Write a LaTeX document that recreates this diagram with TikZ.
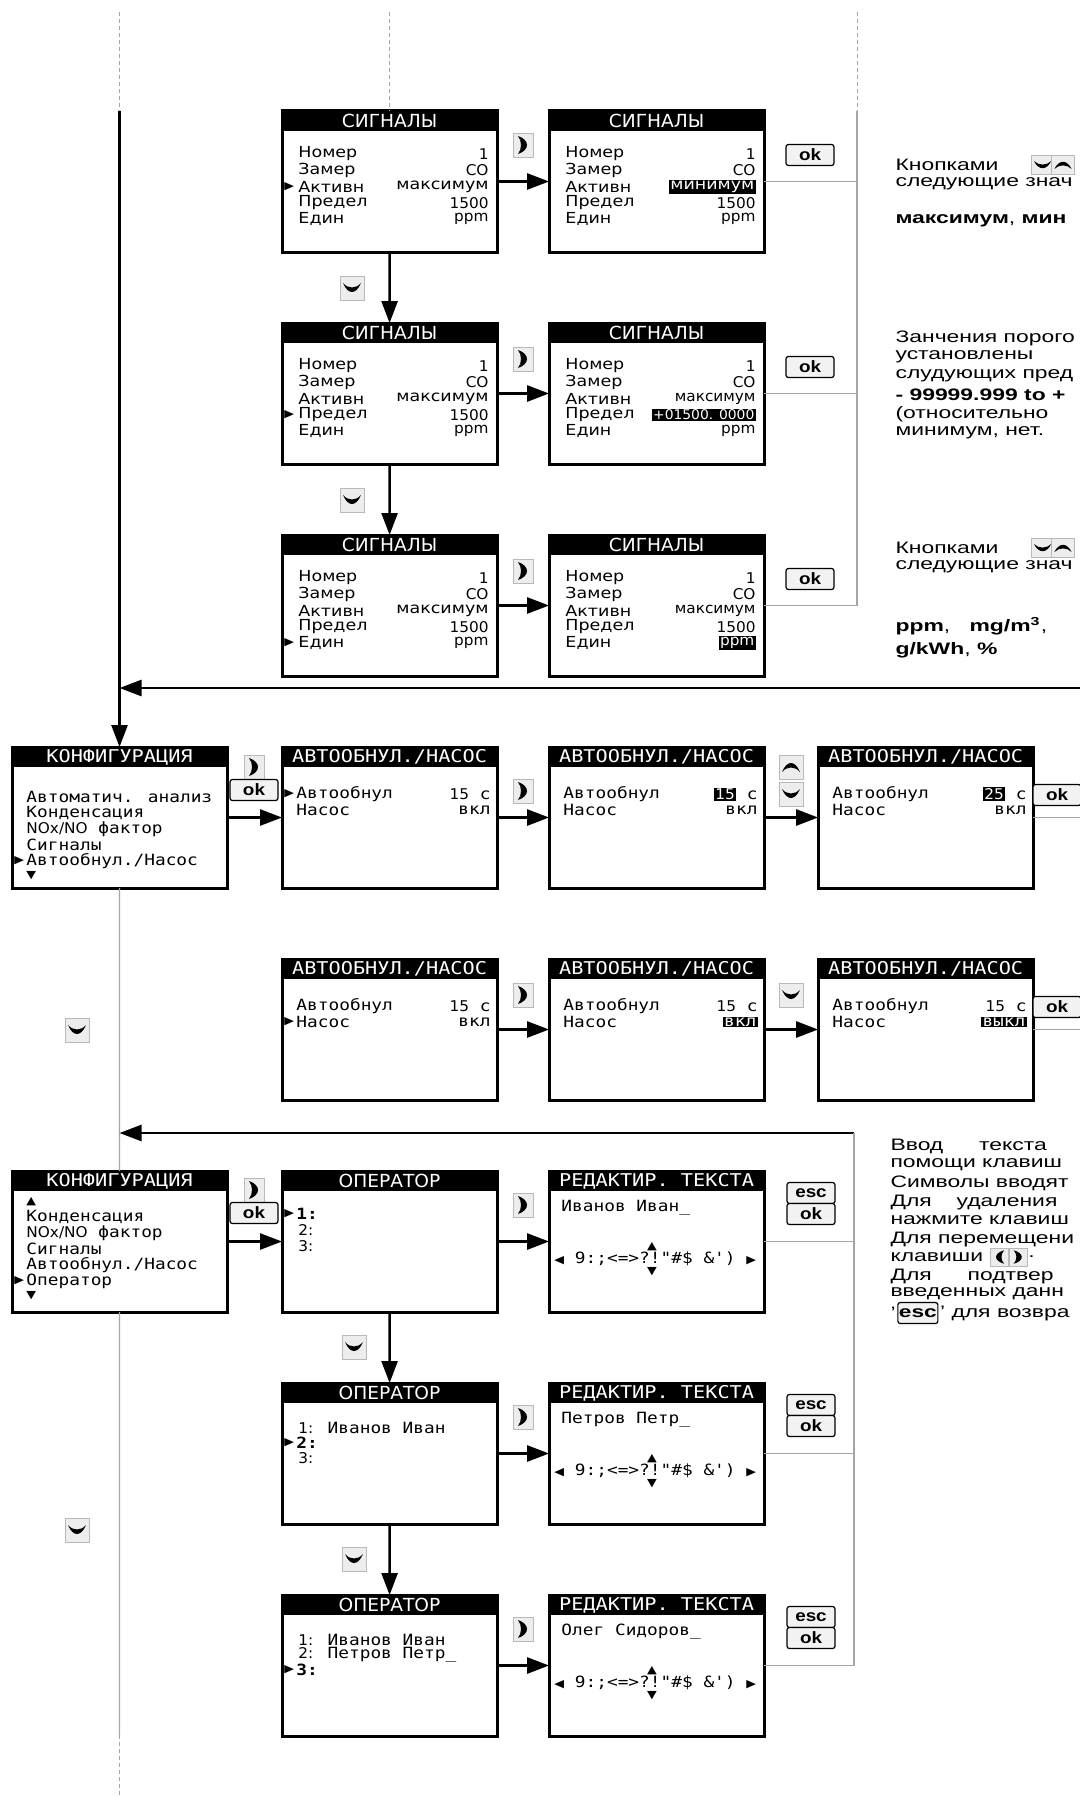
\documentclass[tikz,border=0pt]{standalone}
\usepackage{fontspec}
\setmainfont{Liberation Sans}
\newfontfamily\lcdfont{DejaVu Sans Mono}
\newfontfamily\sigfont{DejaVu Sans}
\newfontfamily\condfont{DejaVu Sans Condensed}
\newfontfamily\symfont{DejaVu Sans}
\usetikzlibrary{arrows.meta,positioning,calc}
\newcommand{\sigf}{\sigfont\fontsize{7.6}{8}\selectfont}
\newcommand{\thinf}{\condfont\fontsize{7.4}{8}\selectfont}
\newcommand{\smallthin}{\condfont\fontsize{6.7}{7}\selectfont}
\newcommand{\lcdf}{\lcdfont\fontsize{7.74}{8}\selectfont}
\newcommand{\ttlcf}{\condfont\fontsize{9}{10}\selectfont}
\newcommand{\ttlmf}{\lcdfont\fontsize{8.8}{10}\selectfont}
\newcommand{\curf}{\symfont\fontsize{5.5}{6}\selectfont}
\newcommand{\btnf}{\bfseries\fontsize{8.2}{9}\selectfont}
\newcommand{\rtf}{\fontsize{8.3}{9}\selectfont}
\newcommand{\hlt}[1]{{\setlength{\fboxsep}{0.5pt}\colorbox{black}{\textcolor{white}{#1}}}}
\newcommand{\tri}[1]{{\curf #1}}
\tikzset{
  scr/.style={draw, line width=1.5pt, fill=white, minimum width=93.48pt,
              minimum height=70.5pt, inner sep=0pt, outer sep=0pt},
  bar/.style={fill=black, minimum width=93.48pt, minimum height=10pt, inner sep=0pt, outer sep=0pt},
  ttlc/.style={text=white, font=\ttlcf, inner sep=0pt},
  ttlm/.style={text=white, font=\ttlmf, inner sep=0pt},
  lbl/.style={anchor=west, inner sep=0pt, font=\sigf},
  val/.style={anchor=east, inner sep=0pt, font=\thinf},
  mrow/.style={anchor=west, inner sep=0pt, font=\lcdf},
  mval/.style={anchor=east, inner sep=0pt, font=\lcdf},
  cur/.style={anchor=west, inner sep=0pt, font=\curf},
  flow/.style={-{Triangle[length=11pt,width=8pt]}, line width=1.3pt},
  gline/.style={gray!70, line width=0.7pt},
  dline/.style={gray!70, line width=0.6pt, dash pattern=on 2pt off 1.5pt},
  btn/.style={draw, line width=0.6pt, rounded corners=1.2pt, fill=gray!10, inner sep=0pt,
              minimum width=20.87pt, minimum height=10.5pt, font=\btnf},
  rtxt/.style={anchor=west, inner sep=0pt, font=\rtf},
  keybg/.style={fill=gray!14, draw=gray!55, line width=0.4pt},
  keyr/.pic={\path[keybg] (-10,-12) rectangle (10,12);
    \fill (-5,-9) .. controls (7,-5) and (7,5) .. (-5,9) .. controls (-1,4) and (-1,-4) .. (-5,-9) -- cycle;},
  keyl/.pic={\path[keybg] (-10,-12) rectangle (10,12);
    \fill (5,-9) .. controls (-7,-5) and (-7,5) .. (5,9) .. controls (1,4) and (1,-4) .. (5,-9) -- cycle;},
  keyd/.pic={\path[keybg] (-12,-12) rectangle (12,12);
    \fill (-9,-5) .. controls (-4,7) and (4,7) .. (9,-5) .. controls (4,1) and (-4,1) .. (-9,-5) -- cycle;},
  keyu/.pic={\path[keybg] (-12,-12) rectangle (12,12);
    \fill (-9,5) .. controls (-4,-7) and (4,-7) .. (9,5) .. controls (4,-1) and (-4,-1) .. (-9,5) -- cycle;},
}
% screen: name, x, y, title style, title
\newcommand{\lcdscreen}[5]{%
  \node[scr, anchor=north west] (#1) at (#2,#3) {};
  \node[bar, anchor=north west] (#1-bar) at (#2,#3) {};
  \node[#4] (#1-ttl) at (#1-bar) {#5};}
% signal screen: name, x, y, cursor row y (0 = none), active, limit, unit
\newcommand{\sigscr}[7]{%
  \lcdscreen{#1}{#2}{#3}{ttlc}{СИГНАЛЫ}
  \begin{scope}[shift={(#2,#3)}]
    \node[lbl] (#1-l1) at (16,43) {Номер};
    \node[lbl] (#1-l2) at (16,59) {Замер};
    \node[lbl] (#1-l3) at (16,76) {Активн};
    \node[lbl] (#1-l4) at (16,92) {Предел};
    \node[lbl] (#1-l5) at (16,108) {Един};
    \node[val] (#1-v1) at (207,43) {1};
    \node[val] (#1-v2) at (207,59) {CO};
    \node[val] (#1-v3) at (207,76) {#5};
    \node[val] (#1-v4) at (207,92) {#6};
    \node[val] (#1-v5) at (207,108) {#7};
    \node[cur] (#1-cur) at (2,#4) {\ifnum#4>0 ▶\fi};
  \end{scope}}

\begin{document}
\begin{tikzpicture}[x=0.434783pt, y=-0.5pt, xscale=1.15, transform shape]
  \path[fill=white, use as bounding box] (0,0) rectangle (1080,1798);
  \coordinate (ltop) at (119.5,12);
  \coordinate (lmid) at (119.5,111);
  \coordinate (rtop) at (857,12);
  \coordinate (rmid) at (857,111);
  \coordinate (ret1) at (1080,688);
  \coordinate (ret2) at (854,1133);
  \coordinate (rbot) at (854,1666);
  \coordinate (lbot) at (119.5,1735);
  \coordinate (lend) at (119.5,1798);

  % signals
  \sigscr{a1}{282}{111}{76}{\sigf максимум}{1500}{ppm}
  \sigscr{a2}{549}{111}{0}{\hlt{\sigf минимум}}{1500}{ppm}
  \sigscr{b1}{282}{323}{92}{\sigf максимум}{1500}{ppm}
  \sigscr{b2}{549}{323}{0}{максимум}{\hlt{\smallthin +01500. 0000}}{ppm}
  \sigscr{c1}{282}{535}{108}{\sigf максимум}{1500}{ppm}
  \sigscr{c2}{549}{535}{0}{максимум}{1500}{\hlt{ppm}}

  \draw[dline] (ltop) -- (lmid);
  \draw[dline] (a1.north |- ltop) -- (a1.north);
  \draw[dline] (rtop) -- (rmid);
  \draw[gline] (rmid) -- (rmid |- c2.east);
  \draw[flow] (a1) -- (a2);
  \draw[flow] (b1) -- (b2);
  \draw[flow] (c1) -- (c2);
  \draw[flow] (a1) -- (b1);
  \draw[flow] (b1) -- (c1);
  \draw[gline] (a2.east) -- (a2.east -| rmid);
  \draw[gline] (b2.east) -- (b2.east -| rmid);
  \draw[gline] (c2.east) -- (c2.east -| rmid);
  \pic at (523,145) {keyr};
  \pic at (523,359) {keyr};
  \pic at (523,571) {keyr};
  \node[btn] (okA) at (810,155) {ok};
  \node[btn] (okB) at (810,367) {ok};
  \node[btn] (okC) at (810,579) {ok};
  \pic at (352,288) {keyd};
  \pic at (352,500) {keyd};

  % notes on the right
  \begin{scope}[shift={(895,0)}, xscale=1.2]
    \node[rtxt] (na1) at (0,165) {Кнопками};
    \pic[scale=0.8] at (123,165) {keyd};
    \pic[scale=0.8] at (140,165) {keyu};
    \node[rtxt] (na2) at (0,184) {следующие знач};
    \node[rtxt] (na3) at (0,221) {\textbf{максимум}, \textbf{мин}};
    \node[rtxt] (nb1) at (0,338) {Занчения порого};
    \node[rtxt] (nb2) at (0,357) {установлены};
    \node[rtxt] (nb3) at (0,376) {слудующих пред};
    \node[rtxt] (nb4) at (0,395) {\textbf{- 99999.999 to +}};
    \node[rtxt] (nb5) at (0,414) {(относительно};
    \node[rtxt] (nb6) at (0,433) {минимум, нет.};
    \node[rtxt] (nc1) at (0,548) {Кнопками};
    \pic[scale=0.8] at (123,548) {keyd};
    \pic[scale=0.8] at (140,548) {keyu};
    \node[rtxt] (nc2) at (0,567) {следующие знач};
    \node[rtxt] (nc3) at (0,626) {\textbf{ppm},\hspace{7pt}\textbf{mg/m\textsuperscript{3}},};
    \node[rtxt] (nc4) at (0,650) {\textbf{g/kWh}, \textbf{\%}};
  \end{scope}

  % configuration, zero / pump
  \lcdscreen{k1}{12}{747}{ttlm}{КОНФИГУРАЦИЯ}
  \begin{scope}[shift={(12,747)}]
    \node[mrow] (k1-r1) at (14,50) {Автоматич. анализ};
    \node[mrow] (k1-r2) at (14,66) {Конденсация};
    \node[mrow] (k1-r3) at (14,82) {{\thinf NOx/NO} фактор};
    \node[mrow] (k1-r4) at (14,98) {Сигналы};
    \node[mrow] (k1-r5) at (14,114) {Автообнул./Насос};
    \node[cur] (k1-c) at (2,114) {▶};
    \node[cur] (k1-dn) at (14,129) {▼};
  \end{scope}
  \lcdscreen{d1}{282}{747}{ttlm}{АВТООБНУЛ./НАСОС}
  \begin{scope}[shift={(282,747)}]
    \node[cur] (d1-c) at (2,47) {▶};
    \node[mrow] (d1-r1) at (14,47) {Автообнул};
    \node[mrow] (d1-r2) at (14,63) {Насос};
    \node[mval] (d1-v1) at (209,47) {{\thinf 15} с};
    \node[mval] (d1-v2) at (209,63) {вкл};
  \end{scope}
  \lcdscreen{d2}{549}{747}{ttlm}{АВТООБНУЛ./НАСОС}
  \begin{scope}[shift={(549,747)}]
    \node[mrow] (d2-r1) at (14,47) {Автообнул};
    \node[mrow] (d2-r2) at (14,63) {Насос};
    \node[mval] (d2-v1) at (209,47) {\hlt{\thinf 15} с};
    \node[mval] (d2-v2) at (209,63) {вкл};
  \end{scope}
  \lcdscreen{d3}{818}{747}{ttlm}{АВТООБНУЛ./НАСОС}
  \begin{scope}[shift={(818,747)}]
    \node[mrow] (d3-r1) at (14,47) {Автообнул};
    \node[mrow] (d3-r2) at (14,63) {Насос};
    \node[mval] (d3-v1) at (209,47) {\hlt{\thinf 25} с};
    \node[mval] (d3-v2) at (209,63) {вкл};
  \end{scope}
  \draw[flow] (lmid) -- (k1.north);
  \draw[flow] (ret1) -- (ret1 -| lmid);
  \draw[flow] (k1) -- (d1);
  \draw[flow] (d1) -- (d2);
  \draw[flow] (d2) -- (d3);
  \draw[gline] (d3.east) -- (d3.east -| ret1);
  \pic at (254,767) {keyr};
  \node[btn] (okK1) at (254,790) {ok};
  \pic at (523,791) {keyr};
  \pic at (791,767) {keyu};
  \pic at (791,794) {keyd};
  \node[btn] (okD) at (1057,795) {ok};

  \lcdscreen{e1}{282}{959}{ttlm}{АВТООБНУЛ./НАСОС}
  \begin{scope}[shift={(282,959)}]
    \node[mrow] (e1-r1) at (14,47) {Автообнул};
    \node[cur] (e1-c) at (2,63) {▶};
    \node[mrow] (e1-r2) at (14,63) {Насос};
    \node[mval] (e1-v1) at (209,47) {{\thinf 15} с};
    \node[mval] (e1-v2) at (209,63) {вкл};
  \end{scope}
  \lcdscreen{e2}{549}{959}{ttlm}{АВТООБНУЛ./НАСОС}
  \begin{scope}[shift={(549,959)}]
    \node[mrow] (e2-r1) at (14,47) {Автообнул};
    \node[mrow] (e2-r2) at (14,63) {Насос};
    \node[mval] (e2-v1) at (209,47) {{\thinf 15} с};
    \node[mval] (e2-v2) at (209,63) {\hlt{вкл}};
  \end{scope}
  \lcdscreen{e3}{818}{959}{ttlm}{АВТООБНУЛ./НАСОС}
  \begin{scope}[shift={(818,959)}]
    \node[mrow] (e3-r1) at (14,47) {Автообнул};
    \node[mrow] (e3-r2) at (14,63) {Насос};
    \node[mval] (e3-v1) at (209,47) {{\thinf 15} с};
    \node[mval] (e3-v2) at (209,63) {\hlt{выкл}};
  \end{scope}
  \draw[flow] (e1) -- (e2);
  \draw[flow] (e2) -- (e3);
  \draw[gline] (e3.east) -- (e3.east -| ret1);
  \pic at (523,995) {keyr};
  \pic at (791,995) {keyd};
  \node[btn] (okE) at (1057,1007) {ok};
  \pic at (77,1030) {keyd};

  % configuration, operator
  \lcdscreen{k2}{12}{1171}{ttlm}{КОНФИГУРАЦИЯ}
  \begin{scope}[shift={(12,1171)}]
    \node[cur] (k2-up) at (14,31) {▲};
    \node[mrow] (k2-r1) at (14,46) {Конденсация};
    \node[mrow] (k2-r2) at (14,62) {{\thinf NOx/NO} фактор};
    \node[mrow] (k2-r3) at (14,78) {Сигналы};
    \node[mrow] (k2-r4) at (14,94) {Автообнул./Насос};
    \node[cur] (k2-c) at (2,110) {▶};
    \node[mrow] (k2-r5) at (14,110) {Оператор};
    \node[cur] (k2-dn) at (14,125) {▼};
  \end{scope}
  \lcdscreen{f1}{282}{1171}{ttlc}{ОПЕРАТОР}
  \begin{scope}[shift={(282,1171)}]
    \node[cur] (f1-c) at (2,43) {▶};
    \node[mrow] (f1-r1) at (14,43) {\textbf{1:}};
    \node[mrow] (f1-r2) at (16,59) {\thinf 2:};
    \node[mrow] (f1-r3) at (16,75) {\thinf 3:};
  \end{scope}
  \lcdscreen{f2}{549}{1171}{ttlm}{РЕДАКТИР. ТЕКСТА}
  \begin{scope}[shift={(549,1171)}]
    \node[mrow] (f2-r1) at (12,37) {Иванов Иван\_};
    \node[mrow] (f2-r2) at (5,88) {\tri{◀} 9:;<=>?!"\#\$ \&') \tri{▶}};
    \node[cur, anchor=center] (f2-up) at (103,76) {▲};
    \node[cur, anchor=center] (f2-dn) at (103,101) {▼};
  \end{scope}

  \lcdscreen{g1}{282}{1383}{ttlc}{ОПЕРАТОР}
  \begin{scope}[shift={(282,1383)}]
    \node[mrow] (g1-r1) at (16,45) {{\thinf 1:} Иванов Иван};
    \node[cur] (g1-c) at (2,60) {▶};
    \node[mrow] (g1-r2) at (14,60) {\textbf{2:}};
    \node[mrow] (g1-r3) at (16,75) {\thinf 3:};
  \end{scope}
  \lcdscreen{g2}{549}{1383}{ttlm}{РЕДАКТИР. ТЕКСТА}
  \begin{scope}[shift={(549,1383)}]
    \node[mrow] (g2-r1) at (12,37) {Петров Петр\_};
    \node[mrow] (g2-r2) at (5,88) {\tri{◀} 9:;<=>?!"\#\$ \&') \tri{▶}};
    \node[cur, anchor=center] (g2-up) at (103,76) {▲};
    \node[cur, anchor=center] (g2-dn) at (103,101) {▼};
  \end{scope}

  \lcdscreen{h1}{282}{1595}{ttlc}{ОПЕРАТОР}
  \begin{scope}[shift={(282,1595)}]
    \node[mrow] (h1-r1) at (16,45) {{\thinf 1:} Иванов Иван};
    \node[mrow] (h1-r2) at (16,60) {{\thinf 2:} Петров Петр\_};
    \node[cur] (h1-c) at (2,75) {▶};
    \node[mrow] (h1-r3) at (14,75) {\textbf{3:}};
  \end{scope}
  \lcdscreen{h2}{549}{1595}{ttlm}{РЕДАКТИР. ТЕКСТА}
  \begin{scope}[shift={(549,1595)}]
    \node[mrow] (h2-r1) at (12,37) {Олег Сидоров\_};
    \node[mrow] (h2-r2) at (5,88) {\tri{◀} 9:;<=>?!"\#\$ \&') \tri{▶}};
    \node[cur, anchor=center] (h2-up) at (103,76) {▲};
    \node[cur, anchor=center] (h2-dn) at (103,101) {▼};
  \end{scope}

  \draw[gline] (k1) -- (k2);
  \draw[gline] (k2) -- (lbot);
  \draw[dline] (lbot) -- (lend);
  \draw[flow] (ret2) -- (ret2 -| lmid);
  \draw[gline] (ret2) -- (rbot);
  \draw[flow] (k2) -- (f1);
  \draw[flow] (f1) -- (f2);
  \draw[flow] (g1) -- (g2);
  \draw[flow] (h1) -- (h2);
  \draw[flow] (f1) -- (g1);
  \draw[flow] (g1) -- (h1);
  \draw[gline] (f2.east) -- (f2.east -| ret2);
  \draw[gline] (g2.east) -- (g2.east -| ret2);
  \draw[gline] (h2.east) -- (h2.east -| ret2);
  \pic at (254,1190) {keyr};
  \node[btn] (okK2) at (254,1213) {ok};
  \pic at (523,1205) {keyr};
  \pic at (523,1417) {keyr};
  \pic at (523,1629) {keyr};
  \node[btn] (escF) at (811,1193) {esc};
  \node[btn] (okF) at (811,1214) {ok};
  \node[btn] (escG) at (811,1405) {esc};
  \node[btn] (okG) at (811,1426) {ok};
  \node[btn] (escH) at (811,1617) {esc};
  \node[btn] (okH) at (811,1638) {ok};
  \pic at (354,1347) {keyd};
  \pic at (354,1559) {keyd};
  \pic at (77,1530) {keyd};

  % notes, text entry
  \begin{scope}[shift={(890,0)}, xscale=1.2]
    \node[rtxt] (nd1) at (0,1146) {Ввод\hspace{13pt}текста};
    \node[rtxt] (nd2) at (0,1165) {помощи клавиш};
    \node[rtxt] (nd3) at (0,1183) {Символы вводят};
    \node[rtxt] (nd4) at (0,1202) {Для\hspace{9pt}удаления};
    \node[rtxt] (nd5) at (0,1220) {нажмите клавиш};
    \node[rtxt] (nd6) at (0,1239) {Для перемещени};
    \node[rtxt] (nd7) at (0,1257) {клавиши};
    \pic[scale=0.75] at ([xshift=5.8pt]nd7.east) {keyl};
    \pic[scale=0.75] at ([xshift=12.5pt]nd7.east) {keyr};
    \node[rtxt] (nd8) at ([xshift=16pt]nd7.east) {.};
    \node[rtxt] (nd9) at (0,1276) {Для\hspace{13pt}подтвер};
    \node[rtxt] (nd10) at (0,1294) {введенных данн};
    \node[rtxt] (nd11) at (0,1313) {'};
    \node[btn, anchor=west, minimum width=14.5pt] (escN) at ([xshift=0.3pt]nd11.east) {esc};
    \node[rtxt] (nd12) at ([xshift=0.3pt]escN.east) {' для возвра};
  \end{scope}
\end{tikzpicture}
\end{document}
